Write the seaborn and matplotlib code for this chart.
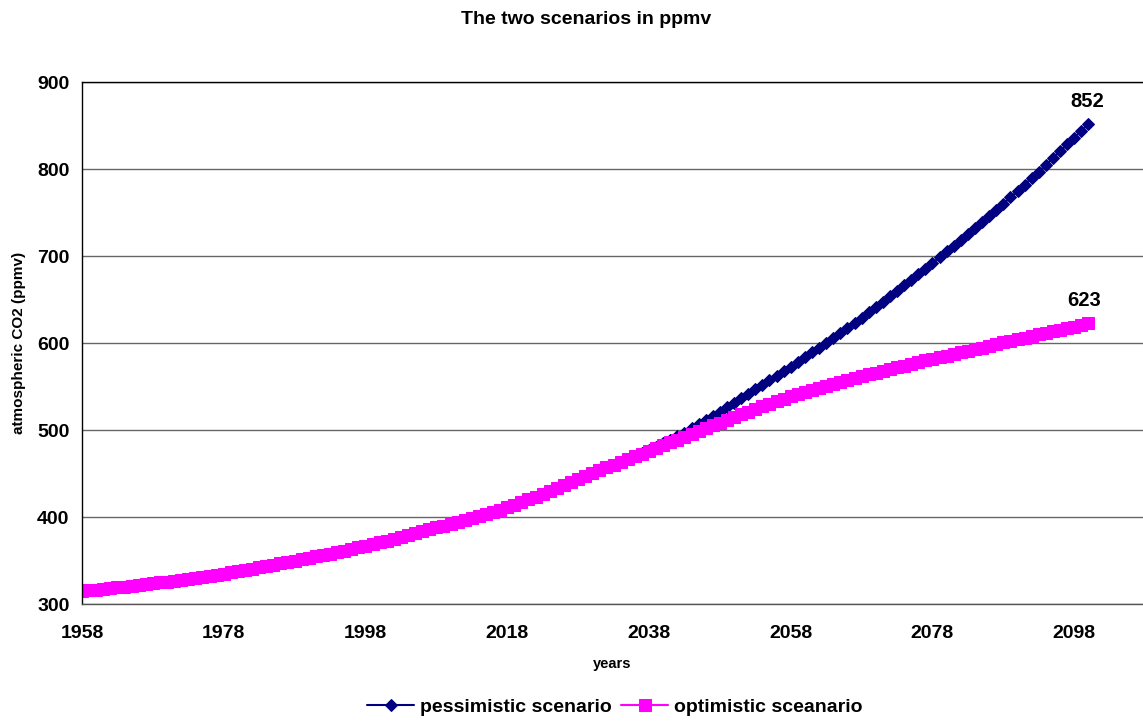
import pandas as pd
import seaborn as sns
import matplotlib.pyplot as plt

# years on the category axis
years = list(range(1958, 2101))

# shared history, 1958-2033 (both scenarios identical here)
common = [315.0, 315.8, 316.6, 317.4, 318.2, 319.0, 319.9, 320.8, 321.8, 322.8,
          323.8, 324.8, 325.8, 326.8, 327.9, 329.0, 330.2, 331.4, 332.6, 333.8,
          335.0, 336.3, 337.7, 339.1, 340.5, 342.0, 343.5, 345.1, 346.7, 348.3,
          350.0, 351.6, 353.2, 354.8, 356.4, 358.0, 359.7, 361.5, 363.3, 365.1,
          367.0, 369.0, 371.0, 373.0, 375.0, 377.0, 379.2, 381.4, 383.6, 385.8,
          388.0, 390.2, 392.4, 394.6, 396.8, 399.0, 401.3, 403.6, 406.0, 408.5,
          411.0, 414.0, 417.0, 420.2, 423.5, 427.0, 430.4, 433.8, 437.2, 440.6,
          444.0, 447.3, 450.6, 453.9, 457.1, 460.3]

# 2034-2100
pess_tail = [463.6, 466.9, 470.2, 473.6, 477.0, 481.0, 485.0, 489.0, 493.0, 497.0,
             501.8, 506.6, 511.4, 516.2, 521.0, 526.2, 531.4, 536.6, 541.8, 547.0,
             552.2, 557.4, 562.6, 567.8, 573.0, 578.4, 583.8, 589.2, 594.6, 600.0,
             605.8, 611.6, 617.4, 623.2, 629.0, 635.2, 641.4, 647.6, 653.8, 660.0,
             666.4, 672.8, 679.2, 685.6, 692.0, 698.6, 705.2, 711.8, 718.4, 725.0,
             732.0, 739.0, 746.0, 753.0, 760.0, 767.4, 774.8, 782.2, 789.6, 797.0,
             804.8, 812.6, 820.4, 828.2, 836.0, 844.0, 852.0]

opt_tail = [463.5, 466.7, 469.9, 473.0, 476.1, 479.3, 482.5, 485.8, 489.1, 492.4,
            495.6, 498.8, 502.0, 505.2, 508.4, 511.6, 514.8, 518.0, 521.2, 524.4,
            527.4, 530.4, 533.3, 536.2, 539.0, 541.4, 543.8, 546.2, 548.6, 551.0,
            553.3, 555.5, 557.7, 559.9, 562.0, 564.0, 566.0, 568.0, 570.0, 572.0,
            574.0, 576.0, 578.0, 580.0, 582.0, 583.8, 585.6, 587.4, 589.2, 591.0,
            592.9, 594.8, 596.8, 598.8, 600.8, 602.6, 604.4, 606.2, 608.0, 609.8,
            611.6, 613.4, 615.2, 617.0, 618.8, 620.9, 623.0]

pessimistic = common + pess_tail
optimistic = common + opt_tail

tick_years = [1958, 1978, 1998, 2018, 2038, 2058, 2078, 2098]
y_ticks = [300, 400, 500, 600, 700, 800, 900]

df_p = pd.DataFrame({'year': years, 'co2': pessimistic})
df_o = pd.DataFrame({'year': years, 'co2': optimistic})

sns.set_style('white')
plt.rcParams['font.family'] = ['Liberation Sans', 'DejaVu Sans']
plt.rcParams['font.weight'] = 'bold'
plt.rcParams['text.color'] = 'black'
plt.rcParams['axes.labelcolor'] = 'black'
plt.rcParams['xtick.color'] = 'black'
plt.rcParams['ytick.color'] = 'black'

fig = plt.figure(figsize=(11.43, 7.22), dpi=100)
ax = fig.add_axes([0.0717, 0.1634, 0.9283, 0.723])

sns.lineplot(data=df_p, x='year', y='co2', ax=ax, color='#000080', marker='D',
             markersize=6.5, markeredgecolor='#000080', linewidth=1.5,
             label='pessimistic scenario')
sns.lineplot(data=df_o, x='year', y='co2', ax=ax, color='#FF00FF', marker='s',
             markersize=8.5, markeredgecolor='#FF00FF', linewidth=1.5,
             label='optimistic sceanario')

# end-of-series labels
ax.annotate(f'{pessimistic[-1]:.0f}', (years[-1], pessimistic[-1]), xytext=(-1, 12),
            textcoords='offset points', ha='center', fontsize=14.5, fontweight='bold')
ax.annotate(f'{optimistic[-1]:.0f}', (years[-1], optimistic[-1]), xytext=(-3, 12),
            textcoords='offset points', ha='center', fontsize=14.5, fontweight='bold')

ax.set_xlim(1958, 2107.7)
ax.set_ylim(300, 900)
ax.set_xticks(tick_years)
ax.set_yticks(y_ticks)
ax.tick_params(axis='x', direction='out', length=5, width=1, pad=10, labelsize=14)
ax.tick_params(axis='y', direction='out', length=5, width=1, pad=4, labelsize=14)
for lab in ax.get_xticklabels() + ax.get_yticklabels():
    lab.set_fontweight('bold')

ax.yaxis.grid(True, color='#666666', linewidth=1)
ax.set_axisbelow(True)
for side in ['left', 'bottom', 'top']:
    ax.spines[side].set_color('black')
    ax.spines[side].set_linewidth(1)
ax.spines['right'].set_visible(False)
ax.spines['bottom'].set_color('#555555')

ax.set_xlabel('years', fontsize=10.5, fontweight='bold', labelpad=11)
ax.set_ylabel('atmospheric CO2 (ppmv)', fontsize=11, fontweight='bold', labelpad=8)
fig.suptitle('The two scenarios in ppmv', x=0.513, y=0.985, fontsize=14, fontweight='bold')

ax.get_legend().remove()
handles, labels = ax.get_legend_handles_labels()
fig.legend(handles, labels, loc='lower center', bbox_to_anchor=(0.538, -0.016), ncol=2,
           frameon=False, prop={'size': 14, 'weight': 'bold'}, handlelength=2.4,
           handletextpad=0.3, columnspacing=0.5)

fig.savefig('out.png', dpi=100)
